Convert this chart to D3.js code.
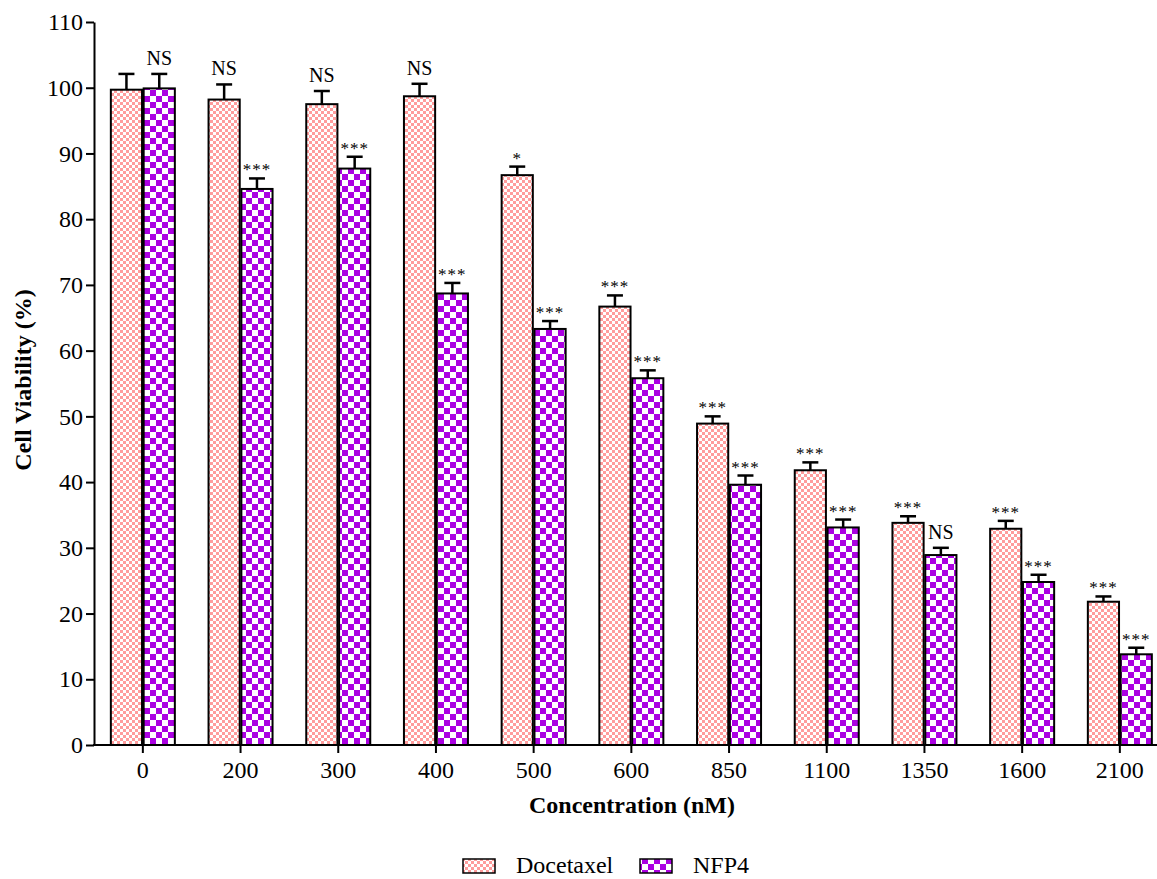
<!DOCTYPE html>
<html>
<head>
<meta charset="utf-8">
<script src="https://cdn.jsdelivr.net/npm/d3@7"></script>
<style>
  html, body { margin: 0; padding: 0; background: #fff; }
  svg { display: block; }
  svg text { font-family: "Liberation Serif", "Times New Roman", Times, "DejaVu Serif", serif !important; fill: #000; }
</style>
</head>
<body>
<svg id="chart" width="1157" height="879"></svg>
<script>
// Concentrations tested (nM)
const categories = ["0", "200", "300", "400", "500", "600", "850", "1100", "1350", "1600", "2100"];
const seriesNames = ["Docetaxel", "NFP4"];

// Mean cell viability (%)
const docetaxel = [99.7, 98.2, 97.5, 98.7, 86.7, 66.7, 48.9, 41.8, 33.8, 32.9, 21.8];
const nfp4      = [99.9, 84.6, 87.7, 68.7, 63.3, 55.8, 39.6, 33.1, 28.9, 24.8, 13.8];

// Upper error (SD)
const docetaxelErr = [2.4, 2.3, 2.0, 1.9, 1.3, 1.7, 1.1, 1.2, 1.0, 1.2, 0.8];
const nfp4Err      = [2.2, 1.6, 1.8, 1.6, 1.2, 1.2, 1.4, 1.2, 1.1, 1.1, 1.0];

// Significance markers
const docetaxelSig = ["", "NS", "NS", "NS", "*", "***", "***", "***", "***", "***", "***"];
const nfp4Sig      = ["NS", "***", "***", "***", "***", "***", "***", "***", "NS", "***", "***"];

const yTicks = [0, 10, 20, 30, 40, 50, 60, 70, 80, 90, 100, 110];

const FONT = '"Liberation Serif", "Times New Roman", Times, "DejaVu Serif", serif';
const svg = d3.select("#chart").attr("font-family", FONT);

// fill patterns
const defs = svg.append("defs");
const pPink = defs.append("pattern").attr("id", "pinkCheck")
  .attr("patternUnits", "userSpaceOnUse").attr("width", 6).attr("height", 6);
pPink.append("rect").attr("width", 6).attr("height", 6).attr("fill", "#fff");
pPink.append("rect").attr("width", 3).attr("height", 3).attr("fill", "#ff9c9c");
pPink.append("rect").attr("x", 3).attr("y", 3).attr("width", 3).attr("height", 3).attr("fill", "#ff9c9c");

const pPurple = defs.append("pattern").attr("id", "purpleCheck")
  .attr("patternUnits", "userSpaceOnUse").attr("width", 12).attr("height", 12);
pPurple.append("rect").attr("width", 12).attr("height", 12).attr("fill", "#fff");
pPurple.append("rect").attr("width", 6).attr("height", 6).attr("fill", "#ab00e2");
pPurple.append("rect").attr("x", 6).attr("y", 6).attr("width", 6).attr("height", 6).attr("fill", "#ab00e2");

const fills = ["url(#pinkCheck)", "url(#purpleCheck)"];

const x0 = 94, yBase = 745;
const x = d3.scaleBand().domain(categories).range([x0, x0 + 97.7 * categories.length]).padding(0);
const xs = d3.scaleBand().domain(seriesNames).range([-32, 32]).paddingInner(0.05);
const y = d3.scaleLinear().domain([0, 110]).range([yBase, 22]);

const center = c => x(c) + x.bandwidth() / 2;

// y axis
const yAxis = svg.append("g").attr("transform", `translate(${x0},0)`)
  .call(d3.axisLeft(y).tickValues(yTicks).tickSize(8).tickPadding(3).tickSizeOuter(0));
yAxis.attr("font-family", FONT);
yAxis.select(".domain").attr("stroke-width", 2);
yAxis.selectAll(".tick line").attr("stroke-width", 2);
yAxis.selectAll(".tick text").attr("font-size", 24);

// x axis
const xAxis = svg.append("g").attr("transform", `translate(0,${yBase})`)
  .call(d3.axisBottom(x).tickSize(8).tickPadding(8).tickSizeOuter(0));
xAxis.attr("font-family", FONT);
xAxis.select(".domain").remove();
xAxis.append("line").attr("x1", x0 - 1).attr("x2", 1157).attr("stroke", "#000").attr("stroke-width", 2);
xAxis.selectAll(".tick line").attr("stroke-width", 2);
xAxis.selectAll(".tick text").attr("font-size", 24);

// bars
const series = [
  { name: "Docetaxel", vals: docetaxel, err: docetaxelErr, sig: docetaxelSig },
  { name: "NFP4", vals: nfp4, err: nfp4Err, sig: nfp4Sig }
];

series.forEach((s, si) => {
  const g = svg.append("g");
  const rows = categories.map((c, i) => ({ c, v: s.vals[i], e: s.err[i], sig: s.sig[i] }));
  const bx = d => center(d.c) + xs(s.name);
  const bw = xs.bandwidth();

  // error bars (upper only)
  g.selectAll("line.err").data(rows).join("line")
    .attr("x1", d => bx(d) + bw / 2).attr("x2", d => bx(d) + bw / 2)
    .attr("y1", d => y(d.v)).attr("y2", d => y(d.v + d.e))
    .attr("stroke", "#000").attr("stroke-width", 2.5);
  g.selectAll("line.cap").data(rows).join("line")
    .attr("x1", d => bx(d) + bw / 2 - 8).attr("x2", d => bx(d) + bw / 2 + 8)
    .attr("y1", d => y(d.v + d.e)).attr("y2", d => y(d.v + d.e))
    .attr("stroke", "#000").attr("stroke-width", 2.5);

  g.selectAll("rect").data(rows).join("rect")
    .attr("x", d => bx(d)).attr("width", bw)
    .attr("y", d => y(d.v)).attr("height", d => y(0) - y(d.v))
    .attr("fill", fills[si]).attr("stroke", "#000").attr("stroke-width", 2);

  g.selectAll("text").data(rows.filter(d => d.sig)).join("text")
    .attr("x", d => bx(d) + bw / 2)
    .attr("y", d => y(d.v + d.e) - (d.sig === "NS" ? 9 : 3))
    .attr("text-anchor", "middle")
    .attr("font-size", d => d.sig === "NS" ? 20 : 17)
    .attr("letter-spacing", d => d.sig === "NS" ? 0 : 1)
    .text(d => d.sig);
});

// axis titles
svg.append("text")
  .attr("x", 632).attr("y", 813)
  .attr("text-anchor", "middle").attr("font-size", 24).attr("font-weight", "bold")
  .text("Concentration (nM)");

svg.append("text")
  .attr("transform", "translate(31,380) rotate(-90)")
  .attr("text-anchor", "middle").attr("font-size", 24).attr("font-weight", "bold")
  .text("Cell Viability (%)");

// legend
const legendX = [463, 640];
const lg = svg.append("g");
seriesNames.forEach((n, i) => {
  lg.append("rect").attr("x", legendX[i]).attr("y", 859).attr("width", 32).attr("height", 14)
    .attr("fill", fills[i]).attr("stroke", "#000").attr("stroke-width", 1.5);
  lg.append("text").attr("x", legendX[i] + 53).attr("y", 873)
    .attr("font-size", 24).text(n);
});
</script>
</body>
</html>
